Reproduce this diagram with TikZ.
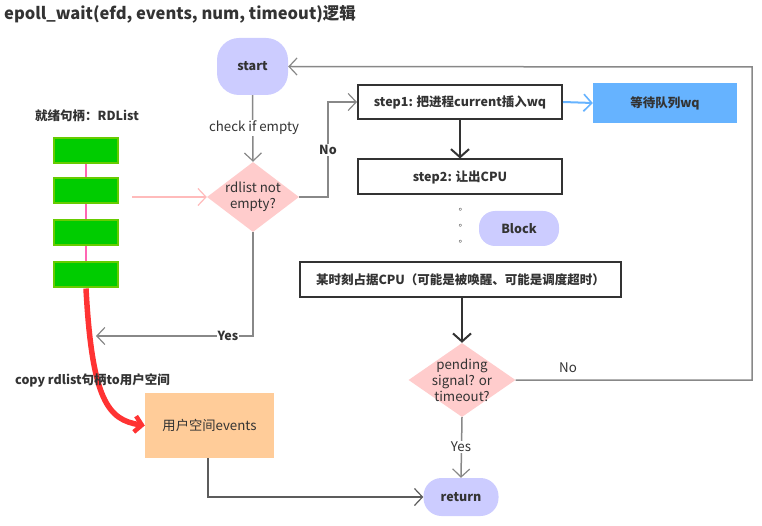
\documentclass[tikz,border=0pt]{standalone}
\usepackage{fontspec}
\setmainfont{Noto Sans CJK SC}
\usetikzlibrary{arrows.meta,shapes.geometric}
\definecolor{lav}{HTML}{CCCCFF}
\definecolor{pinkd}{HTML}{FFCCCC}
\definecolor{gline}{HTML}{888888}
\definecolor{dline}{HTML}{333333}
\definecolor{wqblue}{HTML}{66B3FF}
\definecolor{orng}{HTML}{FFCC99}
\definecolor{grn}{HTML}{00CC00}
\definecolor{grnb}{HTML}{66CC00}
\definecolor{hpink}{HTML}{FF66B3}
\definecolor{lpink}{HTML}{FFBBBB}
\definecolor{redarr}{HTML}{FF3333}
\tikzset{
  x=1pt, y=-1pt,
  txt/.style={font=\fontsize{13.3}{16}\selectfont, text=dline},
  btxt/.style={font=\fontsize{12.5}{15}\selectfont\bfseries, text=dline},
  term/.style={btxt, fill=lav, draw=none, rounded corners=#1, inner sep=0pt},
  stepbox/.style={btxt, draw=dline, line width=2pt, fill=white, inner sep=0pt},
  dec/.style={diamond, fill=pinkd, draw=none, inner sep=0pt},
  gbox/.style={fill=grn, draw=grnb, line width=2pt, minimum width=64pt, minimum height=25pt, inner sep=0pt},
  garr/.style={draw=gline, line width=1.5pt, -{Straight Barb[length=8pt,width=17pt,line width=1.2pt]}},
  darr/.style={draw=dline, line width=2pt, -{Straight Barb[length=8pt,width=18pt,line width=2pt]}},
  lab/.style={fill=white, inner sep=1pt},
}
\begin{document}
\begin{tikzpicture}
\useasboundingbox (0,0) rectangle (762,526);
% title
\node[anchor=west, font=\fontsize{16.5}{19}\selectfont\bfseries, text=dline, inner sep=0pt] (title) at (4,14) {epoll\_wait(efd, events, num, timeout)逻辑};

% left list
\node[btxt, inner sep=0pt] (rdl) at (87,116) {就绪句柄：RDList};
\node[gbox] (g1) at (86,151) {};
\node[gbox] (g2) at (86,191) {};
\node[gbox] (g3) at (86,233) {};
\node[gbox] (g4) at (86,275) {};
\draw[hpink, line width=1.5pt] (g1.south) -- (g2.north) (g2.south) -- (g3.north) (g3.south) -- (g4.north);

% main nodes
\node[term=22pt, minimum width=71pt, minimum height=57pt] (start) at (252.5,66.5) {start};
\node[dec, minimum width=92pt, minimum height=70pt, label={[txt, align=center, inner sep=0pt]center:rdlist not\\empty?}] (d1) at (253,197) {};
\node[stepbox, minimum width=204pt, minimum height=34pt] (s1) at (460,102) {step1: 把进程current插入wq};
\node[btxt, fill=wqblue, minimum width=144pt, minimum height=40pt, inner sep=0pt] (wq) at (665,103) {等待队列wq};
\node[stepbox, minimum width=204pt, minimum height=35pt] (s2) at (460,177) {step2: 让出CPU};
\node[txt, align=center, inner sep=0pt, font=\fontsize{9}{16}\selectfont] (dots) at (463,226) {。\\。\\。};
\node[term=16pt, minimum width=80pt, minimum height=35pt] (blk) at (519,228.5) {Block};
\node[stepbox, minimum width=321pt, minimum height=35pt] (occ) at (460.5,279.5) {某时刻占据CPU（可能是被唤醒、可能是调度超时）};
\node[dec, minimum width=107pt, minimum height=74pt, label={[txt, align=center, inner sep=0pt, font=\fontsize{13.3}{16}\selectfont]center:pending\\signal? or\\timeout?}] (d2) at (462,380) {};
\node[txt, fill=orng, minimum width=129pt, minimum height=65pt, inner sep=0pt] (ev) at (209.5,425.5) {用户空间events};
\node[term=18pt, minimum width=75pt, minimum height=38pt] (ret) at (461,497) {return};

% red copy arrow (behind the label)
\draw[redarr, line width=5.5pt, -{Straight Barb[length=7pt,width=16pt,line width=4.5pt]}] (g4.south) .. controls (92,400) and (108,420) .. (ev.west);
\node[btxt, anchor=west, inner sep=0pt] (copy) at (15,380) {copy rdlist句柄to用户空间};

% connectors
\draw[garr] (start.south) -- (d1.north);
\node[txt, lab] (chk) at (254,128) {check if empty};
\draw[garr] (d1.east) -- (328,197) -- (328,102) -- (s1.west);
\node[btxt, lab] (no1) at (328,150) {No};
\coordinate (yesend) at (96,336);
\draw[garr] (d1.south) -- (253,336) -- (yesend);
\node[btxt, lab] (yes1) at (228,336) {Yes};
\coordinate (pk) at (132,197);
\draw[draw=lpink, line width=1.5pt, -{Straight Barb[length=8pt,width=17pt,line width=1.2pt]}] (pk) -- (d1.west);
\draw[draw=wqblue, line width=2pt, -{Straight Barb[length=8pt,width=17pt,line width=1.6pt]}] (s1.east) -- (wq.west);
\draw[darr] (s1.south) -- (s2.north);
\draw[darr] (occ.south -| d2.north) -- (d2.north);
\draw[garr] (d2.east) -- (752,380) -- (752,67) -- (start.east);
\node[txt, inner sep=0pt] (no2) at (568,368) {No};
\draw[garr] (d2.south) -- (ret.north);
\node[txt, lab] (yes2) at (461,447) {Yes};
\draw[draw=dline!80, line width=1.5pt, -{Straight Barb[length=8pt,width=17pt,line width=1.2pt]}] (ev.south -| 208,0) -- (208,497) -- (ret.west);
\end{tikzpicture}
\end{document}
